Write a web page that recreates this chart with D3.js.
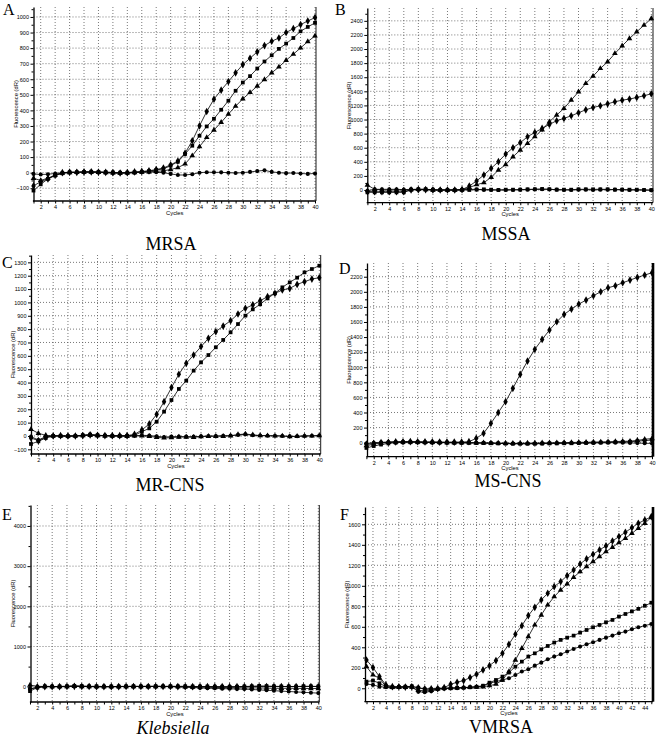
<!DOCTYPE html>
<html>
<head>
<meta charset="utf-8">
<script src="https://cdn.jsdelivr.net/npm/d3@7/dist/d3.min.js"></script>
<style>
  body { margin: 0; background: #fff; }
  svg { display: block; }
</style>
</head>
<body>
<svg id="fig" width="656" height="737"></svg>
<script>
// ---- data ----
const cycles40 = [1,2,3,4,5,6,7,8,9,10,11,12,13,14,15,16,17,18,19,20,21,22,23,24,25,26,27,28,29,30,31,32,33,34,35,36,37,38,39,40];
const cycles45 = [1,2,3,4,5,6,7,8,9,10,11,12,13,14,15,16,17,18,19,20,21,22,23,24,25,26,27,28,29,30,31,32,33,34,35,36,37,38,39,40,41,42,43,44,45];

// A: MRSA
const mrsaDiamond  = [-85,-58,-40,-15,0, 3,2,5,5,3, 2,0,-2,0,5, 8,12,20,30,50, 75,125,205,301,393, 472,530,585,641,694, 735,776,816,844,865, 900,925,951,974,996];
const mrsaSquare   = [-115,-75,-40,-19,-4, 2,3,4,6,5, 4,2,0,0,3, 5,10,17,24,45, 70,120,173,237,297, 346,404,462,526,579, 620,669,714,754,795, 829,865,908,936,962];
const mrsaTriangle = [-36,-50,-35,-15,-3, 0,2,3,3,2, 0,-2,-3,-2,0, 3,5,8,12,20, 32,56,109,167,226, 274,323,376,427,474, 515,556,598,641,679, 722,761,801,842,878];
const mrsaCircle   = [-8,-12,-10,-5,0, 2,3,5,4,3, 0,-2,-3,-2,0, 3,5,3,0,-8, -15,-15,-10,0,3, 2,2,0,-2,0, 5,10,15,5,0, -3,-2,-5,-8,-5];

// B: MSSA
const mssaTriangle = [70,10,0,0,0, 0,5,8,5,0, 0,0,0,5,35, 75,104,180,283,360, 472,567,661,756,855, 968,1063,1157,1275,1393, 1512,1615,1724,1819,1937, 2045,2149,2244,2338,2433];
const mssaDiamond  = [-20,-25,-25,-25,-25, -25,0,5,5,0, 0,0,0,5,57, 128,213,307,402,510, 600,671,756,817,874, 930,983,1016,1053,1096, 1138,1171,1195,1223,1252, 1275,1290,1313,1337,1365];
const mssaSquare   = [-33,-33,-33,-33,-33, -33,5,10,10,5, 0,0,0,0,0, 5,10,5,0,5, 5,5,10,10,15, 10,5,5,5,10, 10,10,10,10,5, 5,5,5,0,0];
const mssaCircle   = [-10,10,10,10,10, 5,10,10,10,0, 0,0,0,5,10, 10,0,0,0,0, 0,5,5,10,10, 10,5,0,0,5, 5,0,5,5,5, 5,0,0,0,-5];

// C: MR-CNS
const mrcnsDiamond  = [-15,-35,-10,0,2, 0,0,3,8,5, 3,2,2,3,12, 45,90,162,257,362, 462,544,606,669,731, 781,823,863,913,956, 981,1013,1043,1068,1093, 1105,1135,1155,1175,1185];
const mrcnsSquare   = [-60,-40,-15,0,0, -2,0,5,10,5, 2,0,0,0,5, 32,57,107,182,269, 352,414,489,551,606, 664,719,776,838,901, 948,986,1030,1068,1113, 1150,1185,1225,1250,1275];
const mrcnsTriangle = [50,20,5,0,0, 0,0,3,5,3, 0,0,0,-2,0, 0,-3,-10,-15,-12, -8,-8,-10,-5,-3, -2,-2,0,10,15, 8,3,2,0,0, -5,-3,0,0,2];
const mrcnsCircle   = [-5,-30,-5,2,0, 0,0,5,10,5, 2,2,0,0,2, 5,3,-2,-8,-5, -5,-5,-5,-3,0, 0,2,3,8,12, 5,3,2,2,0, -3,-2,0,2,3];

// D: MS-CNS
const mscnsDiamond  = [-20,-10,0,5,10, 12,15,12,10,10, 8,8,8,8,13, 57,124,256,398,543, 720,905,1082,1237,1369, 1493,1603,1700,1771,1837, 1890,1948,2001,2054,2080, 2120,2155,2191,2222,2253];
const mscnsSquare   = [-70,-45,-25,-10,0, 5,5,5,3,2, 0,0,-2,-3,-3, -5,-5,-8,-10,-12, -15,-15,-15,-15,-12, -10,-10,-8,-8,-5, -3,0,2,5,8, 10,12,20,28,35];
const mscnsTriangle = [-40,-20,-5,5,8, 10,10,8,5,5, 3,2,0,0,0, -2,-3,-5,-5,-8, -8,-8,-5,-5,-3, -2,0,2,2,5, 5,8,10,12,15, 18,20,30,45,55];
const mscnsCircle   = [-10,0,5,8,10, 10,10,8,5,5, 3,2,0,0,0, -2,-5,-5,-8,-10, -10,-12,-12,-10,-10, -8,-8,-5,-5,-5, -3,-3,-2,0,0, -2,-4,-6,-8,-10];

// E: Klebsiella
const klebCircle   = [-50,-20,5,5,5, 10,15,10,5,0, 0,0,5,5,5, 10,10,10,5,5, 0,-10,-20,-30,-40, -40,-50,-50,-60,-60, -70,-80,-90,-100,-110, -120,-130,-140,-150,-160];
const klebSquare   = [-110,-20,10,5,5, 10,20,15,10,10, 5,5,5,10,10, 5,5,10,10,10, 10,10,5,5,5, 0,0,-5,0,5, 10,20,15,10,5, 5,5,10,10,5];
const klebTriangle = [40,10,5,0,0, 5,10,5,5,0, 0,0,5,5,5, 5,5,5,5,0, 0,-5,-10,-10,-15, -20,-20,-25,-25,-30, -30,-30,-35,-40,-40, -40,-40,-45,-45,-45];
const klebDiamond  = [-60,-15,0,0,0, 5,10,5,5,0, 0,0,0,5,5, 5,5,5,5,5, 0,0,0,0,0, 0,0,0,0,5, 5,5,5,5,5, 5,5,5,5,5];

// F: VMRSA
const vmrsaDiamond  = [276,202,114,33,16, 15,12,15,5,-5, -5,-3,6,39,59, 75,104,137,179,221, 270,341,429,527,611, 709,790,862,927,992, 1041,1099,1154,1213,1262, 1307,1350,1389,1437,1480, 1522,1567,1610,1642,1675];
const vmrsaTriangle = [211,130,98,16,10, 10,10,12,-20,-25, -20,-5,0,5,5, 8,10,12,15,25, 40,80,163,276,390, 504,618,715,813,894, 959,1018,1083,1138,1187, 1236,1285,1333,1376,1421, 1463,1512,1561,1610,1668];
const vmrsaSquare   = [65,75,49,16,10, 12,15,20,5,-10, -10,-5,0,0,5, 5,10,15,25,55, 81,114,153,211,260, 309,341,380,413,446, 472,494,514,543,569, 595,618,644,667,700, 725,750,775,805,835];
const vmrsaCircle   = [42,33,16,10,10, 12,15,15,-35,-38, -30,-10,-5,0,0, 5,10,15,20,49, 65,81,98,130,163, 185,221,250,283,309, 332,358,384,407,429, 449,472,494,514,537, 553,576,595,611,628];

// tick labels
const ticksA = [-100,0,100,200,300,400,500,600,700,800,900,1000];
const ticksB = [0,200,400,600,800,1000,1200,1400,1600,1800,2000,2200,2400];
const ticksC = [-100,0,100,200,300,400,500,600,700,800,900,1000,1100,1200,1300];
const ticksD = [0,200,400,600,800,1000,1200,1400,1600,1800,2000,2200];
const ticksE = [0,1000,2000,3000,4000];
const ticksF = [0,200,400,600,800,1000,1200,1400,1600];

// ---- layout ----
const panels = [
  { letter: 'A', title: 'MRSA', cycles: cycles40, yTicks: ticksA, yDomain: [-182, 1064],
    box: { left: 33.5, right: 316, top: 7, bottom: 201 }, xRange: [33.5, 315],
    letterPos: [3, 15], titlePos: [171, 250], thickRight: false,
    series: [['diamond', mrsaDiamond], ['square', mrsaSquare], ['triangle', mrsaTriangle], ['circle', mrsaCircle]] },
  { letter: 'B', title: 'MSSA', cycles: cycles40, yTicks: ticksB, yDomain: [-180, 2582],
    box: { left: 367.3, right: 653, top: 8, bottom: 202.7 }, xRange: [367.4, 651.3],
    letterPos: [335, 15], titlePos: [506, 240], thickRight: false,
    series: [['square', mssaSquare], ['circle', mssaCircle], ['triangle', mssaTriangle], ['diamond', mssaDiamond]] },
  { letter: 'C', title: 'MR-CNS', cycles: cycles40, yTicks: ticksC, yDomain: [-135, 1355],
    box: { left: 31, right: 320.7, top: 255, bottom: 454 }, xRange: [31, 319.3],
    letterPos: [2, 268], titlePos: [170, 491], thickRight: false,
    series: [['triangle', mrcnsTriangle], ['circle', mrcnsCircle], ['square', mrcnsSquare], ['diamond', mrcnsDiamond]] },
  { letter: 'D', title: 'MS-CNS', cycles: cycles40, yTicks: ticksD, yDomain: [-186, 2382],
    box: { left: 367, right: 653, top: 263, bottom: 456.7 }, xRange: [366.4, 652],
    letterPos: [339, 274], titlePos: [508, 487], thickRight: true,
    series: [['square', mscnsSquare], ['triangle', mscnsTriangle], ['circle', mscnsCircle], ['diamond', mscnsDiamond]] },
  { letter: 'E', title: 'Klebsiella', italic: true, cycles: cycles40, yTicks: ticksE, yDomain: [-381, 4522],
    box: { left: 30.5, right: 319.3, top: 505, bottom: 702 }, xRange: [30, 318.3],
    letterPos: [2, 520], titlePos: [173, 734], thickRight: false,
    series: [['circle', klebCircle], ['triangle', klebTriangle], ['diamond', klebDiamond], ['square', klebSquare]] },
  { letter: 'F', title: 'VMRSA', cycles: cycles45, yTicks: ticksF, yDomain: [-131, 1769],
    box: { left: 365, right: 653, top: 507, bottom: 701.7 }, xRange: [366.5, 651.3],
    letterPos: [340, 520], titlePos: [501, 733], thickRight: true,
    series: [['circle', vmrsaCircle], ['square', vmrsaSquare], ['triangle', vmrsaTriangle], ['diamond', vmrsaDiamond]] }
];

const symbols = {
  diamond: d3.symbol().type(d3.symbolDiamond).size(17),
  square: d3.symbol().type(d3.symbolSquare).size(14),
  triangle: d3.symbol().type(d3.symbolTriangle).size(14),
  circle: d3.symbol().type(d3.symbolCircle).size(13)
};

const svg = d3.select('#fig');
const sans = "'Liberation Sans', Arial, sans-serif";
const serif = "'Liberation Serif', 'Times New Roman', serif";

function drawPanel(p) {
  const { box } = p;
  const g = svg.append('g');
  const x = d3.scaleLinear().domain([p.cycles[0], p.cycles[p.cycles.length - 1]]).range(p.xRange);
  const y = d3.scaleLinear().domain(p.yDomain).range([box.bottom, box.top]);
  const evens = p.cycles.filter(c => c % 2 === 0);

  // dotted grid
  const grid = g.append('g').attr('stroke', '#555').attr('stroke-width', 0.8).attr('stroke-dasharray', '1,2');
  grid.selectAll('line.h').data(p.yTicks).join('line').attr('class', 'h')
    .attr('x1', box.left).attr('x2', box.right)
    .attr('y1', d => y(d)).attr('y2', d => y(d));
  grid.selectAll('line.v').data(evens).join('line').attr('class', 'v')
    .attr('x1', d => x(d)).attr('x2', d => x(d))
    .attr('y1', box.top).attr('y2', box.bottom);

  // right frame line
  g.append('line')
    .attr('x1', box.right).attr('x2', box.right)
    .attr('y1', box.top).attr('y2', box.bottom)
    .attr('stroke', '#000').attr('stroke-width', p.thickRight ? 2.6 : 0.9);

  // minor y ticks at half steps
  const step = p.yTicks[1] - p.yTicks[0];
  const minor = p.yTicks.map(t => t + step / 2).filter(t => y(t) > box.top);
  g.append('g').attr('transform', `translate(${box.left},0)`)
    .call(d3.axisLeft(y).tickValues(minor).tickSize(2).tickSizeOuter(0).tickFormat(''))
    .call(a => a.select('.domain').remove());

  // y axis
  const ya = g.append('g').attr('transform', `translate(${box.left},0)`)
    .call(d3.axisLeft(y).tickValues(p.yTicks).tickSize(3).tickSizeOuter(0).tickPadding(1.5).tickFormat(d3.format('d')));
  ya.select('.domain').attr('stroke-width', 1.3);
  ya.selectAll('text').attr('font-size', 5.5).attr('font-family', sans).attr('fill', '#000');

  // x axis
  const xa = g.append('g').attr('transform', `translate(0,${box.bottom})`)
    .call(d3.axisBottom(x).tickValues(p.cycles).tickSize(2.5).tickSizeOuter(0).tickPadding(1.5)
      .tickFormat(d => d % 2 === 0 ? d : ''));
  xa.select('.domain').remove();
  xa.append('line').attr('x1', box.left - 0.6).attr('x2', box.right).attr('stroke', '#000').attr('stroke-width', 1.3);
  xa.selectAll('text').attr('font-size', 5.5).attr('font-family', sans).attr('fill', '#000');

  // axis titles
  g.append('text')
    .attr('x', (box.left + box.right) / 2).attr('y', box.bottom + 13.5)
    .attr('text-anchor', 'middle').attr('font-size', 5.8).attr('font-family', sans)
    .text('Cycles');
  g.append('text')
    .attr('transform', `translate(${box.left - 16},${(box.top + box.bottom) / 2}) rotate(-90)`)
    .attr('text-anchor', 'middle').attr('font-size', 5.8).attr('font-family', sans)
    .text('Fluorescence (dR)');

  // series
  const line = d3.line().x((d, i) => x(p.cycles[i])).y(d => y(d));
  p.series.forEach(([sym, vals]) => {
    const s = g.append('g');
    s.append('path').attr('d', line(vals))
      .attr('fill', 'none').attr('stroke', '#000').attr('stroke-width', 0.8);
    s.selectAll('path.m').data(vals).join('path').attr('class', 'm')
      .attr('d', symbols[sym])
      .attr('transform', (d, i) => `translate(${x(p.cycles[i])},${y(d)})`)
      .attr('fill', '#000');
  });

  // panel letter and caption
  svg.append('text')
    .attr('x', p.letterPos[0]).attr('y', p.letterPos[1])
    .attr('font-size', 16).attr('font-family', serif)
    .text(p.letter);
  svg.append('text')
    .attr('x', p.titlePos[0]).attr('y', p.titlePos[1])
    .attr('text-anchor', 'middle').attr('font-size', 18).attr('font-family', serif)
    .attr('font-style', p.italic ? 'italic' : 'normal')
    .text(p.title);
}

panels.forEach(drawPanel);
</script>
</body>
</html>
